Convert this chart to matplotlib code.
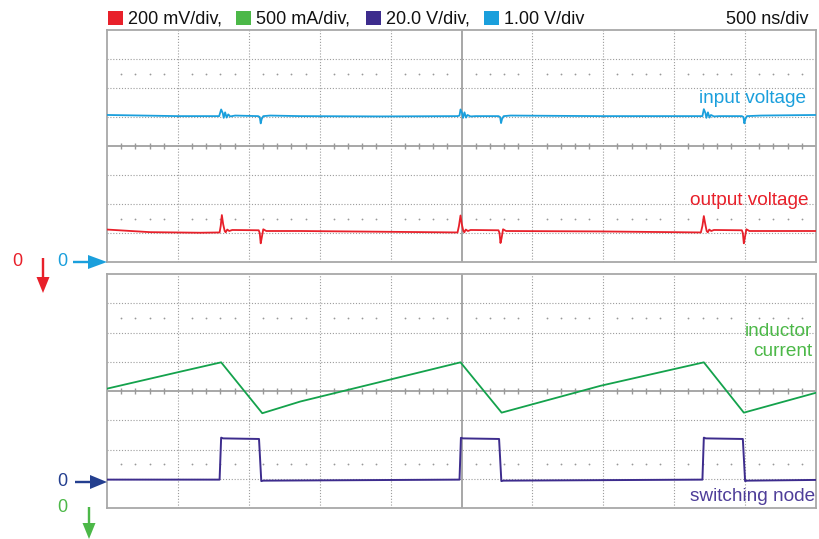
import numpy as np
import matplotlib
matplotlib.use("Agg")
import matplotlib.pyplot as plt
from matplotlib.patches import Rectangle, FancyArrow

plt.rcParams['font.family'] = ['Liberation Sans', 'DejaVu Sans']

# ---------------- data (time in ns, values in physical units) ----------------
NS_PER_DIV = 500
IN_SCALE, IN_OFFSET = 1.0, -4.0        # V/div, div position of 0 V
OUT_SCALE, OUT_OFFSET = 0.2, -19.431   # V/div
IL_SCALE, IL_OFFSET = 0.5, -5.0        # A/div
SW_SCALE, SW_OFFSET = 20.0, -3.08      # V/div

t_in = [0, 501, 791, 805, 816, 823, 833, 844, 855, 869, 904, 1066, 1077, 1084, 1091, 1102, 1151, 1363, 1928, 2472, 2486,
        2493, 2504, 2511, 2521, 2532, 2542, 2564, 2599, 2761, 2772, 2779, 2786, 2797, 2846, 3482, 4188, 4199,
        4209, 4220, 4227, 4238, 4249, 4259, 4280, 4316, 4477, 4488, 4495, 4502, 4513, 4612, 5000]
v_in = [5.07, 5.03, 5.03, 5.26, 5.14, 4.97, 5.16, 4.98, 5.09, 5.02, 5.05, 5.03, 5.00, 4.78, 4.93, 5.03, 5.05, 5.03, 5.02, 5.03, 5.05,
        5.26, 5.14, 4.97, 5.16, 4.98, 5.07, 5.02, 5.03, 5.03, 5.00, 4.79, 4.93, 5.03, 5.05, 5.03, 5.03, 5.03,
        5.27, 5.14, 4.97, 5.16, 4.98, 5.07, 5.02, 5.03, 5.03, 5.00, 4.78, 4.93, 5.03, 5.05, 5.07]

t_out = [0, 304, 657, 794, 802, 810, 819, 830, 837, 848, 862, 883, 1070, 1077, 1084, 1091, 1102, 1123, 1363, 1928, 2472,
         2482, 2493, 2502, 2513, 2520, 2530, 2545, 2564, 2761, 2768, 2775, 2783, 2793, 2814, 3482, 4188,
         4199, 4209, 4219, 4229, 4237, 4247, 4261, 4280, 4477, 4484, 4491, 4498, 4509, 4530, 5000]
v_out = [3.310, 3.292, 3.288, 3.290, 3.335, 3.410, 3.348, 3.300, 3.291, 3.310, 3.300, 3.307, 3.305, 3.286, 3.215, 3.252, 3.312, 3.300, 3.300, 3.295, 3.290,
         3.335, 3.407, 3.348, 3.300, 3.291, 3.310, 3.300, 3.307, 3.305, 3.286, 3.217, 3.252, 3.312, 3.300, 3.297, 3.290,
         3.335, 3.403, 3.348, 3.300, 3.291, 3.310, 3.300, 3.307, 3.305, 3.286, 3.215, 3.252, 3.312, 3.300, 3.300]

t_il = [0, 516, 805, 1095, 1363, 2493, 2783, 3482, 4209, 4491, 5000]
i_il = [2.54, 2.83, 2.99, 2.12, 2.32, 2.99, 2.13, 2.59, 2.99, 2.13, 2.47]

t_sw = [0, 794, 805, 819, 1072, 1088, 1102, 2486, 2496, 2510, 2765, 2781, 2795, 4199, 4209, 4223, 4484, 4500, 4514, 5000]
v_sw = [1.0, 1.0, 29.7, 29.2, 28.8, 0.0, 0.3, 1.0, 29.6, 29.2, 28.8, 0.0, 0.3, 1.0, 29.7, 29.2, 28.8, 0.0, 0.3, 0.8]

header_labels = ["200 mV/div,", "500 mA/div,", "20.0 V/div,", "1.00 V/div"]
timebase_label = "500 ns/div"

# ---------------- colours ----------------
C_RED = '#e8202a'
C_GREEN_LBL = '#4cb848'
C_GREEN_TR = '#14a24c'
C_PURPLE = '#3d2c8d'
C_PURPLE_TXT = '#4e3d99'
C_BLUE = '#1a9fdc'
C_NAVY = '#243f8f'
GRID = '#9c9c9c'
FRAME = '#a8a8a8'

W, H = 819, 539
fig = plt.figure(figsize=(W / 100, H / 100), dpi=100)
fig.patch.set_facecolor('white')


def make_panel(rect):
    ax = fig.add_axes(rect)
    ax.set_xlim(0, 10)
    ax.set_ylim(-4, 4)
    ax.set_xticks([])
    ax.set_yticks([])
    for s in ax.spines.values():
        s.set_color(FRAME)
        s.set_linewidth(1.3)
    for x in range(1, 10):
        if x == 5:
            continue
        ax.axvline(x, color=GRID, lw=0.8, ls=(0, (1, 1.6)), zorder=1)
    for y in range(-3, 4):
        if y == 0:
            continue
        ax.axhline(y, color=GRID, lw=0.8, ls=(0, (1, 1.6)), zorder=1)
    ax.axhline(0, color='#a0a0a0', lw=1.3, zorder=1)
    ax.axvline(5, color='#a0a0a0', lw=1.3, zorder=1)
    minor = np.array([k * 0.2 for k in range(1, 50) if k % 5 != 0])
    ax.plot(minor, np.zeros_like(minor), ls='none', marker='|', ms=5, mew=1.0, color='#999999', zorder=1)
    for yy in (2.5, -2.5):
        ax.plot(minor, np.full_like(minor, yy), ls='none', marker='o', ms=1.3, mew=0, color='#999999', zorder=1)
    return ax


ax_top = make_panel([107 / W, (H - 262) / H, 709 / W, 232 / H])
ax_bot = make_panel([107 / W, (H - 508) / H, 709 / W, 234 / H])

tdiv = lambda t: np.asarray(t, float) / NS_PER_DIV
vdiv = lambda v, s, o: np.asarray(v, float) / s + o

ax_top.plot(tdiv(t_in), vdiv(v_in, IN_SCALE, IN_OFFSET), color=C_BLUE, lw=1.3, zorder=3)
ax_top.plot(tdiv(t_out), vdiv(v_out, OUT_SCALE, OUT_OFFSET), color=C_RED, lw=1.3, zorder=3)
ax_bot.plot(tdiv(t_il), vdiv(i_il, IL_SCALE, IL_OFFSET), color=C_GREEN_TR, lw=1.3, zorder=3)
ax_bot.plot(tdiv(t_sw), vdiv(v_sw, SW_SCALE, SW_OFFSET), color=C_PURPLE, lw=1.4, zorder=3)

# ---------------- overlay (pixel coordinates) for annotations ----------------
ov = fig.add_axes([0, 0, 1, 1], zorder=5)
ov.set_xlim(0, W)
ov.set_ylim(H, 0)
ov.axis('off')
ov.patch.set_alpha(0)

FS = 13
FS_LBL = 13.7
# header
sq_cols = [C_RED, C_GREEN_LBL, C_PURPLE, C_BLUE]
sq_x = [108, 236, 366, 484]
for x0, col, lbl in zip(sq_x, sq_cols, header_labels):
    ov.add_patch(Rectangle((x0, 11), 15, 14, color=col, lw=0))
    ov.text(x0 + 20, 24, lbl, fontsize=FS, color='#111111', ha='left', va='baseline')
ov.text(808, 24, timebase_label, fontsize=FS, color='#111111', ha='right', va='baseline')

# trace labels
ov.text(806, 103, "input voltage", fontsize=FS_LBL, color=C_BLUE, ha='right', va='baseline')
ov.text(808, 205, "output voltage", fontsize=FS_LBL, color=C_RED, ha='right', va='baseline')
ov.text(812, 336, "inductor", fontsize=FS_LBL, color=C_GREEN_LBL, ha='right', va='baseline')
ov.text(812, 356, "current", fontsize=FS_LBL, color=C_GREEN_LBL, ha='right', va='baseline')
ov.text(815, 501, "switching node", fontsize=FS_LBL, color=C_PURPLE_TXT, ha='right', va='baseline')

# zero markers
ov.text(17.5, 262, "0", fontsize=FS, color=C_RED, ha='center', va='center')
ov.add_patch(FancyArrow(43, 258, 0, 35, width=2.4, head_width=13, head_length=16,
                        length_includes_head=True, color=C_RED, lw=0))
ov.text(62.5, 262, "0", fontsize=FS, color=C_BLUE, ha='center', va='center')
ov.add_patch(FancyArrow(73, 262, 34, 0, width=2.4, head_width=14, head_length=19,
                        length_includes_head=True, color=C_BLUE, lw=0))
ov.text(62.5, 481, "0", fontsize=FS, color=C_NAVY, ha='center', va='center')
ov.add_patch(FancyArrow(75, 482, 32, 0, width=2.4, head_width=14, head_length=17,
                        length_includes_head=True, color=C_NAVY, lw=0))
ov.text(62.5, 507, "0", fontsize=FS, color=C_GREEN_LBL, ha='center', va='center')
ov.add_patch(FancyArrow(89, 507, 0, 32, width=2.4, head_width=13, head_length=16,
                        length_includes_head=True, color=C_GREEN_LBL, lw=0))

fig.savefig('out.png', dpi=100)
